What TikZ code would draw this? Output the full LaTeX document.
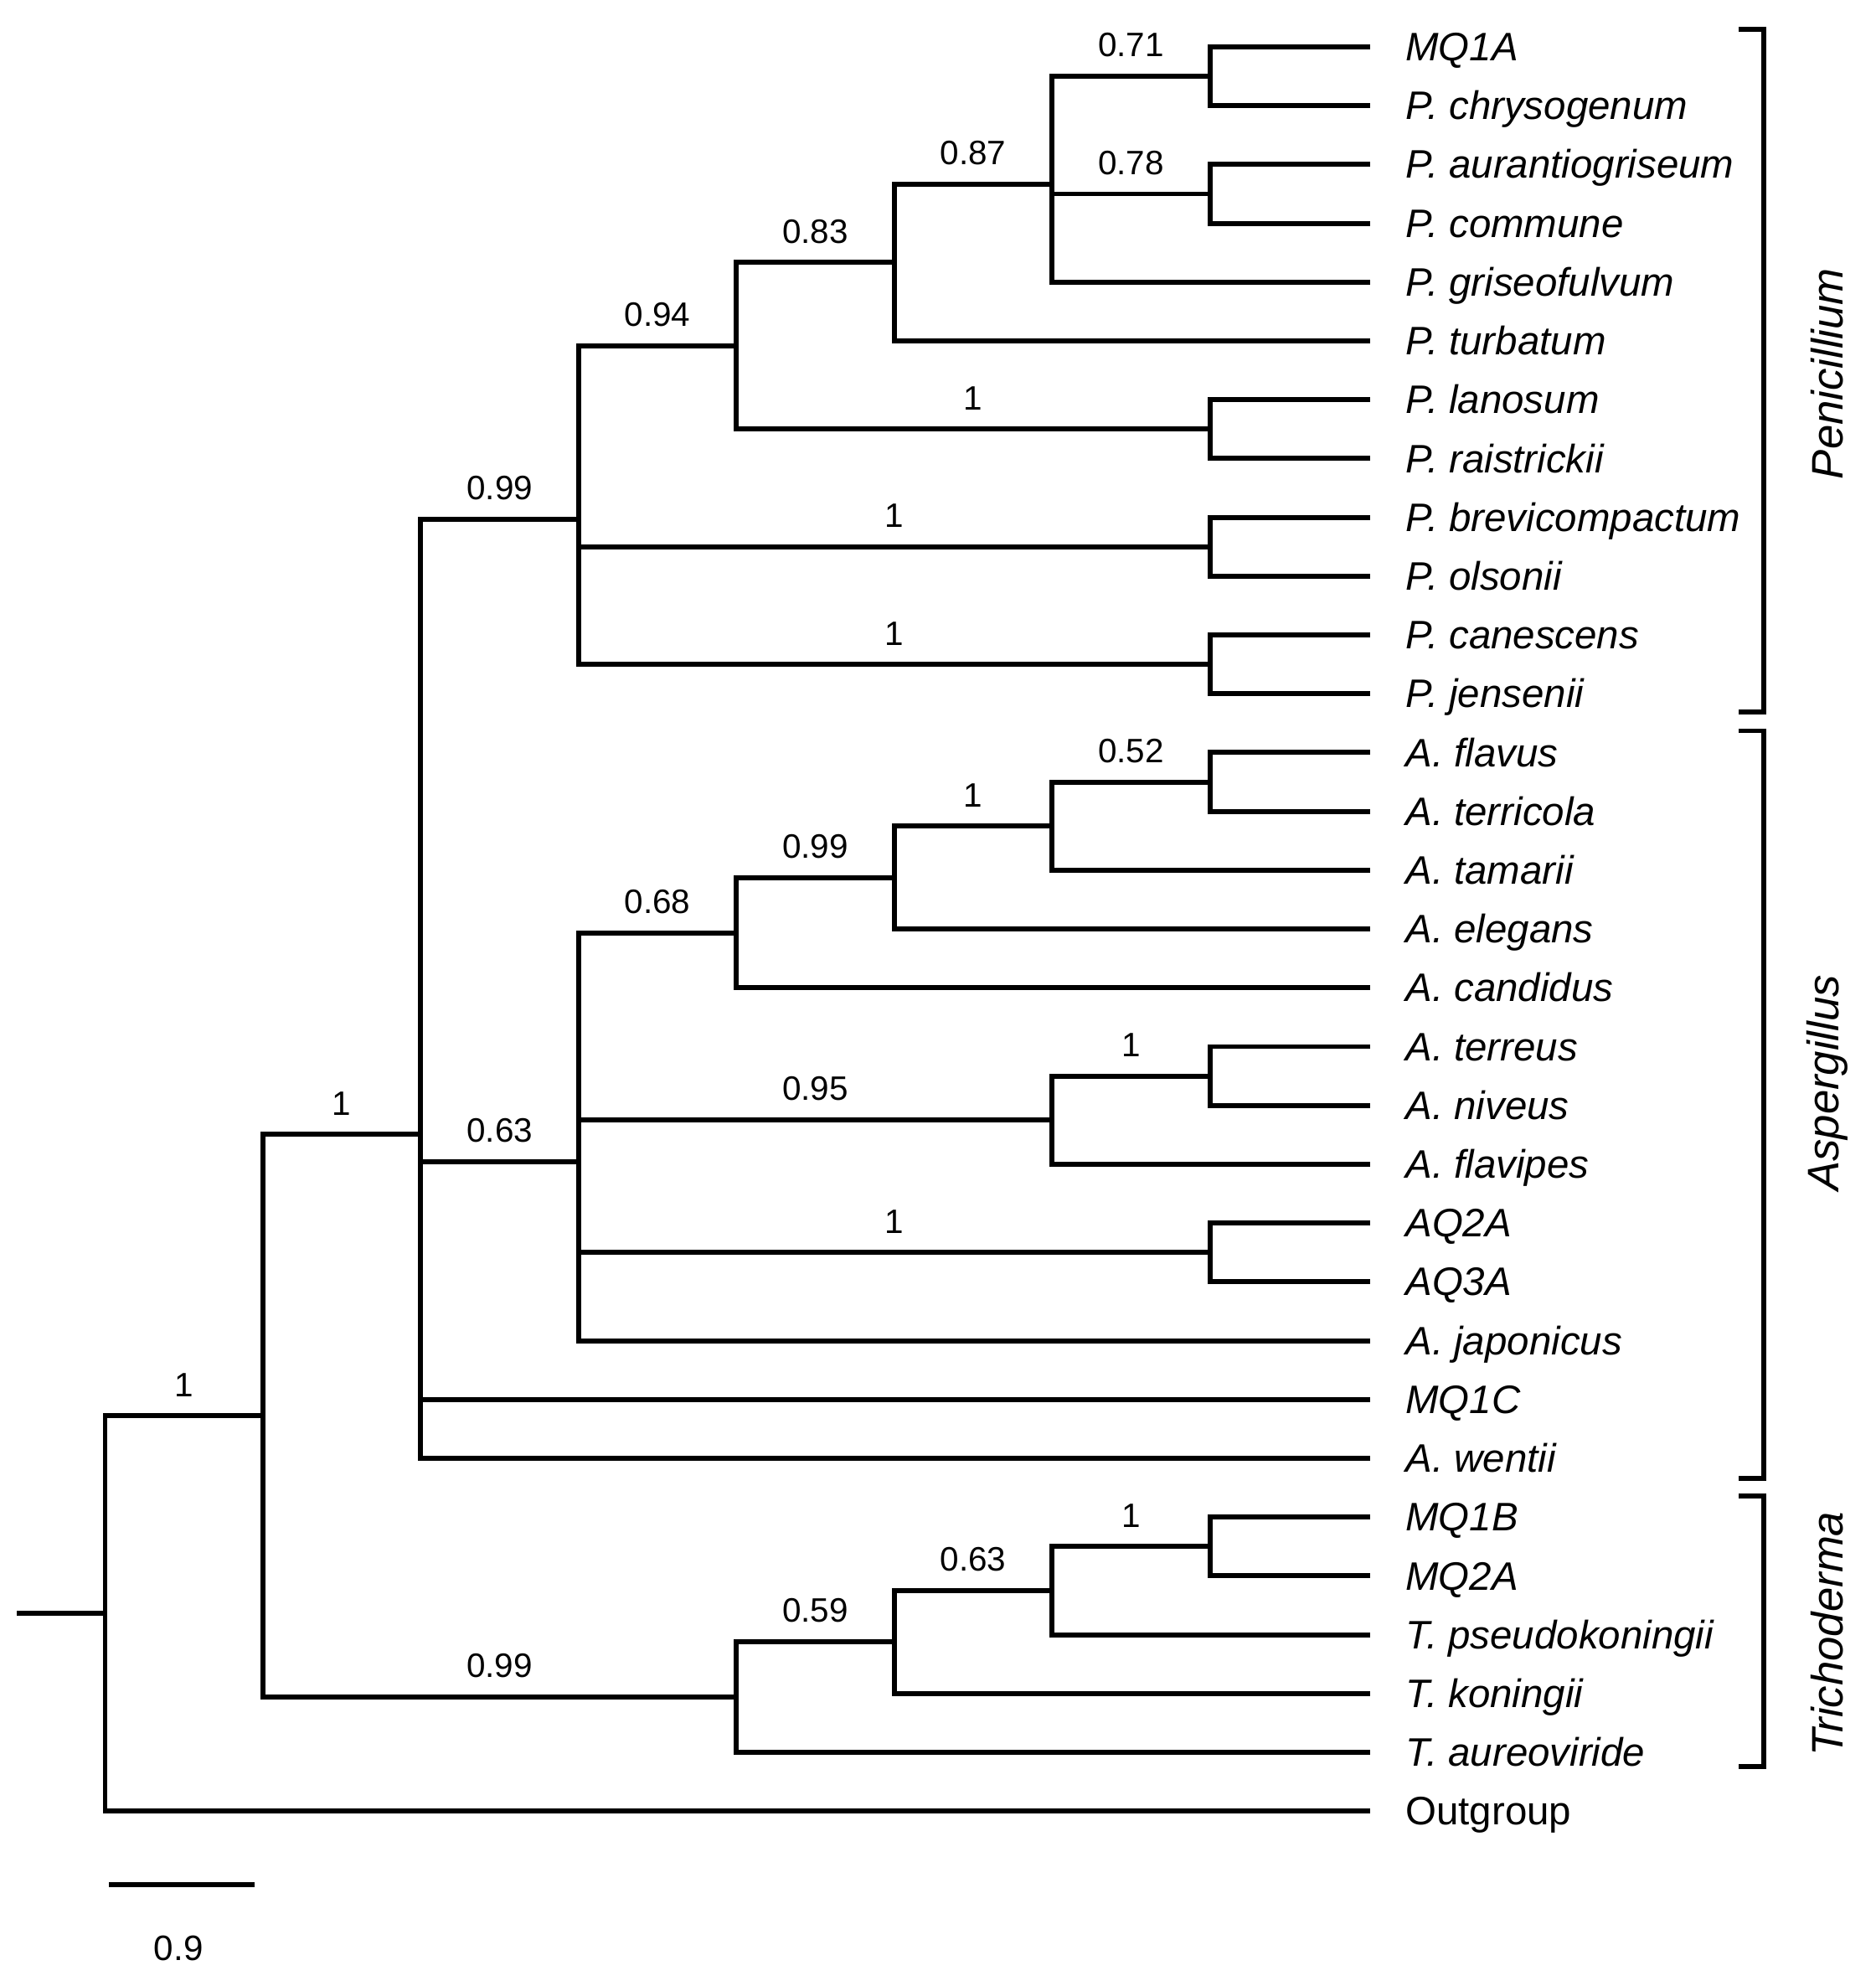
\documentclass[tikz,border=0pt]{standalone}
\usepackage{fontspec}
\setmainfont{Liberation Sans}
\begin{document}
\begin{tikzpicture}[x=0.015125cm,y=-0.015125cm,line width=1.7pt,line cap=rect,
  leaf/.style={anchor=base west,inner sep=0pt,font=\fontsize{13.5}{16}\selectfont\itshape},
  supp/.style={above=0.2cm,inner sep=0pt,font=\fontsize{11.5}{14}\selectfont},
  clade/.style={rotate=90,inner sep=0pt,font=\fontsize{15}{18}\selectfont\itshape}]
\useasboundingbox (0,0) rectangle (1481,1568);
% tips and names
\foreach \sp [count=\i] in {MQ1A,P. chrysogenum,P. aurantiogriseum,P. commune,
  P. griseofulvum,P. turbatum,P. lanosum,P. raistrickii,P. brevicompactum,
  P. olsonii,P. canescens,P. jensenii,A. flavus,A. terricola,A. tamarii,
  A. elegans,A. candidus,A. terreus,A. niveus,A. flavipes,AQ2A,AQ3A,
  A. japonicus,MQ1C,A. wentii,MQ1B,MQ2A,T. pseudokoningii,T. koningii,
  T. aureoviride}{
  \coordinate (t\i) at (1080,{37+(\i-1)*46.43});
  \node[leaf] (l\i) at ([shift={(28,11)}]t\i) {\sp};
}
\coordinate (t31) at (1080,1429.9);
\node[leaf,font=\fontsize{13.5}{16}\selectfont] (l31) at ([shift={(28,11)}]t31) {Outgroup};
% internal nodes
\coordinate (base) at (15,1273.9);
\coordinate (root) at (83,1273.9);
\coordinate (n1) at (207.6,1117.9);
\coordinate (n2) at (332.3,895.7);
\coordinate (pen) at (456.9,409.7);
\coordinate (f94) at (581.5,273.0);
\coordinate (d83) at (706.1,207.3);
\coordinate (c87) at (830.8,145.3);
\coordinate (a71) at (955.4,60.2);
\coordinate (b78) at (955.4,153.1);
\coordinate (e1) at (955.4,338.8);
\coordinate (g1) at (955.4,431.7);
\coordinate (h1) at (955.4,524.5);
\coordinate (asp) at (456.9,917.0);
\coordinate (l68) at (581.5,736.4);
\coordinate (k99) at (706.1,692.8);
\coordinate (j1) at (830.8,652.2);
\coordinate (i52) at (955.4,617.4);
\coordinate (n95) at (830.8,884.4);
\coordinate (m1) at (955.4,849.5);
\coordinate (o1) at (955.4,988.8);
\coordinate (tri) at (581.5,1340.0);
\coordinate (r59) at (706.1,1296.4);
\coordinate (q63) at (830.8,1255.8);
\coordinate (p1) at (955.4,1221.0);
% branches with support values
\draw (base) -- (root);
\foreach \p/\c/\v in {root/n1/1,n1/n2/1,n2/pen/0.99,pen/f94/0.94,f94/d83/0.83,
  d83/c87/0.87,c87/a71/0.71,c87/b78/0.78,f94/e1/1,pen/g1/1,pen/h1/1,
  n2/asp/0.63,asp/l68/0.68,l68/k99/0.99,k99/j1/1,j1/i52/0.52,asp/n95/0.95,
  n95/m1/1,asp/o1/1,n1/tri/0.99,tri/r59/0.59,r59/q63/0.63,q63/p1/1}
  \draw (\p) |- node[supp,pos=0.75] {\v} (\c);
% branches to tips
\foreach \p/\c in {a71/t1,a71/t2,b78/t3,b78/t4,c87/t5,d83/t6,e1/t7,e1/t8,
  g1/t9,g1/t10,h1/t11,h1/t12,i52/t13,i52/t14,j1/t15,k99/t16,l68/t17,
  m1/t18,m1/t19,n95/t20,o1/t21,o1/t22,asp/t23,n2/t24,n2/t25,p1/t26,
  p1/t27,q63/t28,r59/t29,tri/t30,root/t31}
  \draw (\p) |- (\c);
% clade brackets
\draw (1375,23) -| (1393,562) -- (1375,562);
\draw (1375,577) -| (1393,1167) -- (1375,1167);
\draw (1375,1181) -| (1393,1395) -- (1375,1395);
\node[clade] (penic) at (1443,295) {Penicillium};
\node[clade] (asper) at (1443,855) {Aspergillus};
\node[clade] (trich) at (1443,1290) {Trichoderma};
% scale bar
\coordinate (s0) at (88,1488);
\coordinate (s1) at (199,1488);
\draw (s0) -- (s1);
\node[font=\fontsize{12}{14}\selectfont] (slab) at (141,1538) {0.9};
\end{tikzpicture}
\end{document}
